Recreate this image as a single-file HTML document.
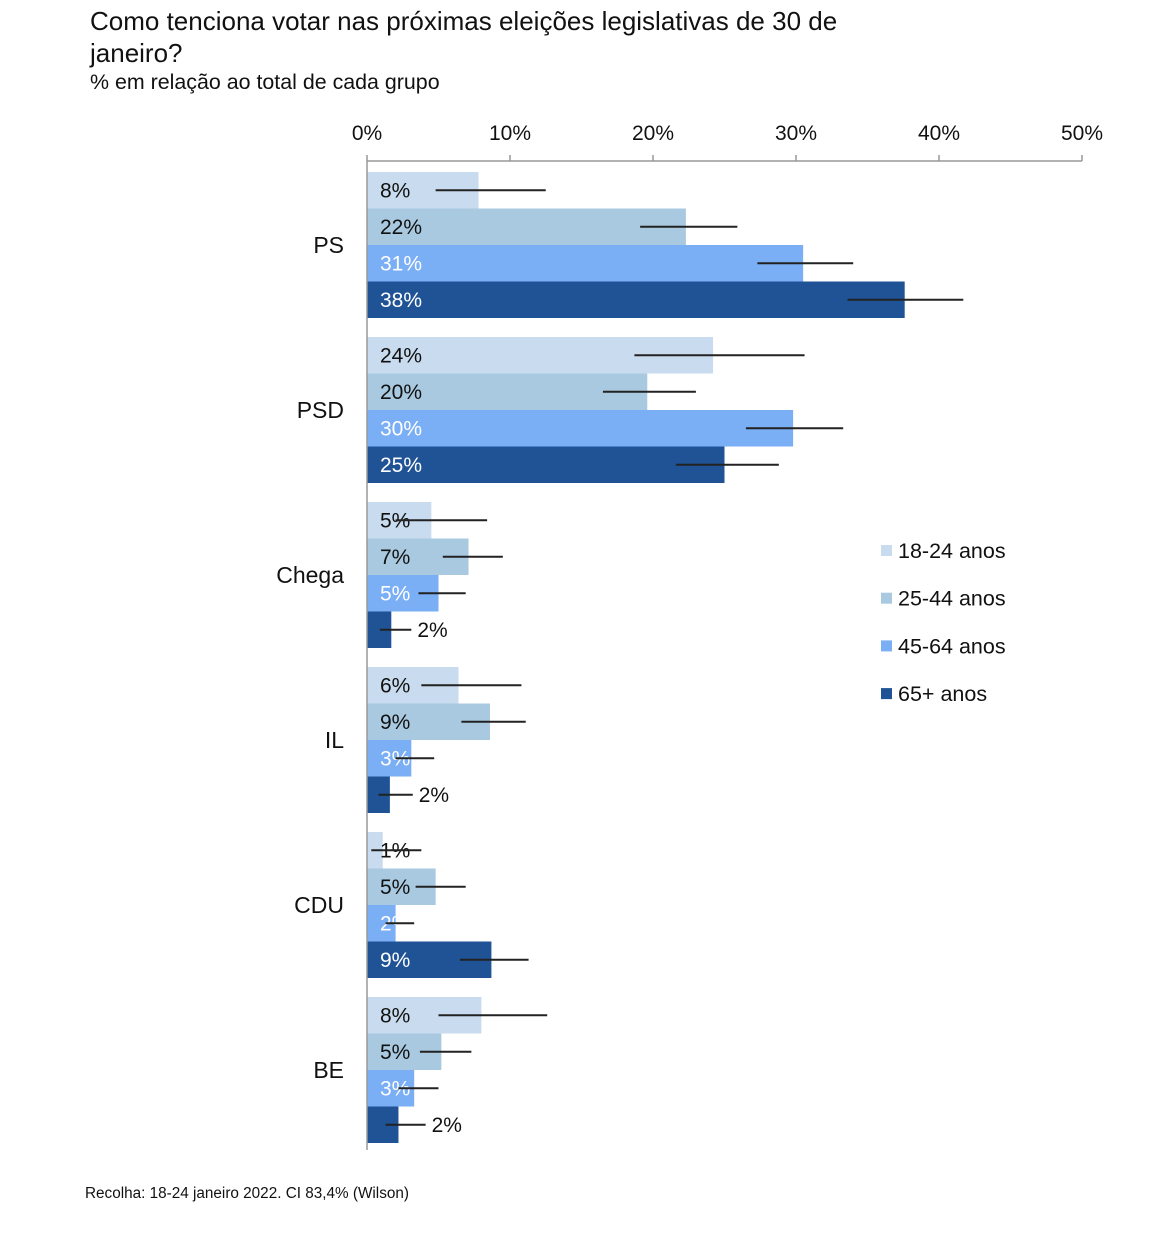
<!DOCTYPE html>
<html><head><meta charset="utf-8"><style>
body{margin:0;background:#fff;width:1174px;height:1236px;overflow:hidden}
svg text{font-family:"Liberation Sans",sans-serif}
</style></head><body>
<svg id="chart" width="1174" height="1236" xmlns="http://www.w3.org/2000/svg">
<text x="90" y="30" font-size="26" fill="#111">Como tenciona votar nas próximas eleições legislativas de 30 de</text>
<text x="90" y="62" font-size="26" fill="#111">janeiro?</text>
<text x="90" y="89" font-size="21.4" fill="#111">% em relação ao total de cada grupo</text>
<text x="85" y="1198" font-size="15.3" fill="#111">Recolha: 18-24 janeiro 2022. CI 83,4% (Wilson)</text>
<g id="plot"></g>
</svg>
<script>
const categories=["PS","PSD","Chega","IL","CDU","BE"];
const seriesNames=["18-24 anos","25-44 anos","45-64 anos","65+ anos"];
const s1824=[7.8,24.2,4.5,6.4,1.1,8.0];
const s2544=[22.3,19.6,7.1,8.6,4.8,5.2];
const s4564=[30.5,29.8,5.0,3.1,2.0,3.3];
const s65=[37.6,25.0,1.7,1.6,8.7,2.2];
const lo1824=[4.8,18.7,2.0,3.8,0.3,5.0], hi1824=[12.5,30.6,8.4,10.8,3.8,12.6];
const lo2544=[19.1,16.5,5.3,6.6,3.4,3.7], hi2544=[25.9,23.0,9.5,11.1,6.9,7.3];
const lo4564=[27.3,26.5,3.6,2.0,1.3,2.2], hi4564=[34.0,33.3,6.9,4.7,3.3,5.0];
const lo65=[33.6,21.6,0.9,0.8,6.5,1.3], hi65=[41.7,28.8,3.1,3.2,11.3,4.1];
const ticks=[0,10,20,30,40,50];
const colors=["#c9dbee","#a8c9e0","#7aaef5","#1f5396"];
const series=[s1824,s2544,s4564,s65];
const los=[lo1824,lo2544,lo4564,lo65], his=[hi1824,hi2544,hi4564,hi65];
const x0=367,x1=1082,groupTop=172,groupStep=165,barH=36.5;
const xs=v=>x0+(v/50)*(x1-x0);
const g=document.getElementById('plot');
const NS="http://www.w3.org/2000/svg";
function mk(t,a){const e=document.createElementNS(NS,t);for(const k in a)e.setAttribute(k,a[k]);g.appendChild(e);return e;}
let ax=mk('line',{x1:x0,y1:161,x2:x1,y2:161,stroke:'#999','stroke-width':1.5});


ticks.forEach(t=>{
 let l=mk('line',{x1:xs(t),y1:155,x2:xs(t),y2:161,stroke:'#999','stroke-width':1.5});
 
 
 let tx=mk('text',{x:xs(t),y:140,'font-size':21,'text-anchor':'middle',fill:'#111'});tx.textContent=t+'%';
 
 
});
categories.forEach((c,i)=>{
 const gy=groupTop+i*groupStep;
 let ct=mk('text',{x:344,y:gy+barH*2+8,'font-size':23,'text-anchor':'end',fill:'#111'});ct.textContent=c;
 
 
 series.forEach((s,j)=>{
  const y=gy+j*barH,v=s[i];
  let r=mk('rect',{x:x0,y:y,width:xs(v)-x0,height:barH,fill:colors[j]});
  
  
  const outside=(j==3&&v<3);
  const lab=Math.round(v)+'%';
  let t=mk('text',{x:outside?xs(his[j][i])+6:380,y:y+barH/2+7,'font-size':21,fill:(j>=2&&!outside)?'#fff':'#111'});t.textContent=lab;
  
  
  let e=mk('line',{x1:xs(los[j][i]),x2:xs(his[j][i]),y1:y+barH/2,y2:y+barH/2,stroke:'#222','stroke-width':2});
  
  
 });
});
let ay=mk('line',{x1:x0,y1:161,x2:x0,y2:1150,stroke:'#999','stroke-width':1.5});


seriesNames.forEach((n,j)=>{
 const y=551+j*47.7;
 let r=mk('rect',{x:881,y:y-6,width:11,height:11,fill:colors[j]});
 
 
 let t=mk('text',{x:898,y:y+7,'font-size':21.5,fill:'#111'});t.textContent=n;
 
 
});
</script>
</body></html>
